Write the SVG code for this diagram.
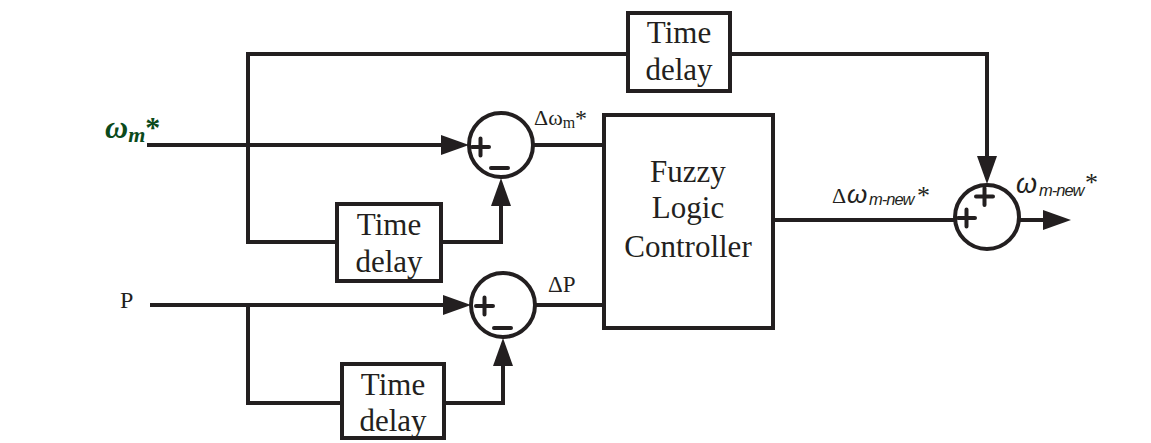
<svg xmlns="http://www.w3.org/2000/svg" width="1151" height="443" viewBox="0 0 1151 443">
<style>
.ln{fill:none;stroke:#231f20;stroke-width:4;stroke-linejoin:miter}
.box{fill:#fff;stroke:#231f20;stroke-width:4}
.sum{fill:#fff;stroke:#231f20;stroke-width:4}
.sg{fill:none;stroke:#231f20;stroke-width:4;stroke-linecap:round}
.t{font-family:"Liberation Serif","Times New Roman",serif;fill:#231f20}
.bt{font-size:31px;text-anchor:middle}
.si{font-family:"Liberation Sans",Arial,sans-serif;font-style:italic}
.sub{font-size:16.5px;letter-spacing:-1px}
</style>
<defs>
<marker id="arr" markerUnits="userSpaceOnUse" markerWidth="28" markerHeight="20" refX="0" refY="10" orient="auto" viewBox="0 0 28 20">
<path d="M0,0 L28,10 L0,20 Z" fill="#231f20"/>
</marker>
</defs>
<rect width="1151" height="443" fill="#fff"/>
<g id="connectors">
<path class="ln" d="M147 145 H441" marker-end="url(#arr)"/>
<path class="ln" d="M150 305 H443" marker-end="url(#arr)"/>
<path class="ln" d="M628 54 H248 V242 H337"/>
<path class="ln" d="M730 54 H987 V156" marker-end="url(#arr)"/>
<path class="ln" d="M441 242 H501 V206" marker-end="url(#arr)"/>
<path class="ln" d="M248 305 V403 H342"/>
<path class="ln" d="M444 403 H503 V366" marker-end="url(#arr)"/>
<path class="ln" d="M533 145 H604"/>
<path class="ln" d="M535 305 H604"/>
<path class="ln" d="M773 220 H955"/>
<path class="ln" d="M1019 220 H1043" marker-end="url(#arr)"/>
</g>
<g id="delay-top">
<rect class="box" x="628" y="13" width="102" height="78"/>
<text class="t bt" x="679" y="43">Time</text>
<text class="t bt" x="679" y="80">delay</text>
</g>
<g id="delay-omega">
<rect class="box" x="337" y="204" width="104" height="77"/>
<text class="t bt" x="389" y="235">Time</text>
<text class="t bt" x="389" y="272">delay</text>
</g>
<g id="delay-p">
<rect class="box" x="342" y="364" width="102" height="74"/>
<text class="t bt" x="393" y="395">Time</text>
<text class="t bt" x="393" y="431">delay</text>
</g>
<g id="flc">
<rect class="box" x="604" y="115" width="169" height="213"/>
<text class="t bt" x="688" y="182">Fuzzy</text>
<text class="t bt" x="688" y="218">Logic</text>
<text class="t bt" x="688" y="257">Controller</text>
</g>
<g id="sum-omega">
<circle class="sum" cx="501" cy="145" r="32"/>
<path class="sg" d="M472 147 H489 M480.5 138.5 V155.5 M491 168 H508"/>
</g>
<g id="sum-p">
<circle class="sum" cx="503" cy="305" r="32"/>
<path class="sg" d="M476 306 H493 M484.5 297.5 V314.5 M494 328 H511"/>
</g>
<g id="sum-out">
<circle class="sum" cx="987" cy="217" r="32"/>
<path class="sg" d="M958 218 H975 M966.5 209.5 V226.5 M976 196.5 H993 M984.5 188 V205"/>
</g>
<g id="labels">
<text class="t" x="105" y="138" font-size="32" font-style="italic" font-weight="bold" style="fill:#0b4a1b">ω<tspan font-size="22" dy="4">m</tspan><tspan font-size="30" dy="-5" font-style="normal">*</tspan></text>
<text class="t" x="120" y="308" font-size="24">P</text>
<text class="t" x="534" y="125" font-size="22">Δω<tspan font-size="16" dy="3">m</tspan><tspan font-size="24" dy="-2">*</tspan></text>
<text class="t" x="548" y="292" font-size="23">ΔP</text>
<text class="t" x="832" y="203" font-size="22">Δ<tspan class="si" x="847" font-size="26">ω</tspan><tspan class="si sub" x="869" dy="2">m-new</tspan><tspan x="917" dy="-1" font-size="26">*</tspan></text>
<text class="t" x="1016" y="193" font-size="27"><tspan class="si">ω</tspan><tspan class="si sub" x="1039" dy="3">m-new</tspan><tspan x="1085" dy="-5" font-size="26">*</tspan></text>
</g>
</svg>
